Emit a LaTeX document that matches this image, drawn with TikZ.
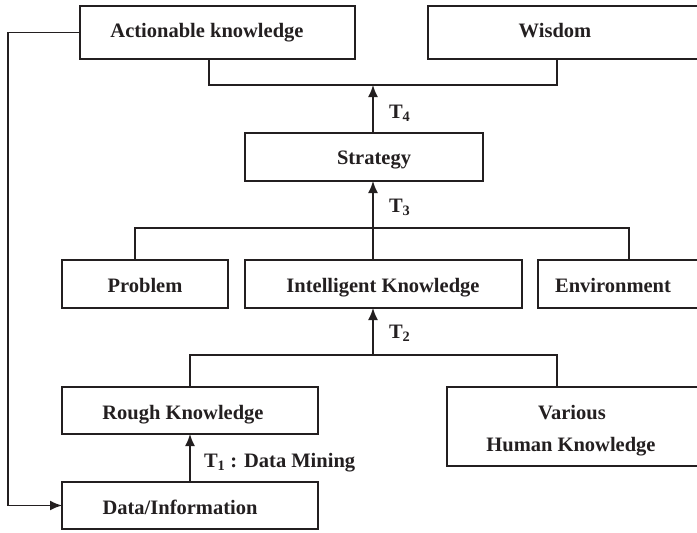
\documentclass[tikz,border=0pt]{standalone}
\usepackage{fontspec}
\setmainfont{Liberation Serif}
\usetikzlibrary{arrows.meta}
\definecolor{ink}{RGB}{35,31,32}
\begin{document}
\begin{tikzpicture}[x=1pt,y=-1pt,
  box/.style={draw=ink, line width=1.6pt, inner sep=0pt, outer sep=0pt},
  lbl/.style={font=\fontsize{20.5}{32}\selectfont\bfseries, text=ink, inner sep=0pt, outer sep=0pt},
  conn/.style={draw=ink, line width=1.6pt},
  arr/.style={conn, -{Latex[length=12pt,width=10pt]}}]
\useasboundingbox (0,0) rectangle (697,533);
\clip (0,0) rectangle (697,533);
% boxes
\node[box, minimum width=275pt, minimum height=53pt] (ak) at (217.5,32.5) {};
\node[box, minimum width=284pt, minimum height=53pt] (w) at (570,32.5) {};
\node[box, minimum width=238pt, minimum height=48pt] (s) at (364,157) {};
\node[box, minimum width=166pt, minimum height=48pt] (p) at (145,284) {};
\node[box, minimum width=277pt, minimum height=48pt] (ik) at (383.5,284) {};
\node[box, minimum width=174pt, minimum height=48pt] (e) at (625,284) {};
\node[box, minimum width=256pt, minimum height=47pt] (rk) at (190,410.5) {};
\node[box, minimum width=265pt, minimum height=79pt] (v) at (579.5,426.5) {};
\node[box, minimum width=256pt, minimum height=47pt] (d) at (190,505.5) {};
% texts
\node[lbl, anchor=base] (akt) at (207,37.5) {Actionable knowledge};
\node[lbl, anchor=base] (wt) at (555,37.5) {Wisdom};
\node[lbl, anchor=base] (st) at (374,164) {Strategy};
\node[lbl, anchor=base] (pt) at (145,292) {Problem};
\node[lbl, anchor=base] (ikt) at (383,292) {Intelligent Knowledge};
\node[lbl, anchor=base] (et) at (613,292) {Environment};
\node[lbl, anchor=base] (rkt) at (183,419) {Rough Knowledge};
\node[lbl, anchor=base] (vt1) at (572,419) {Various};
\node[lbl, anchor=base] (vt2) at (571,451) {Human Knowledge};
\node[lbl, anchor=base] (dt) at (180,514) {Data/Information};
\node[lbl, anchor=base west] (t4) at (389,118) {T\textsubscript{4}};
\node[lbl, anchor=base west] (t3) at (389,212) {T\textsubscript{3}};
\node[lbl, anchor=base west] (t2) at (389,338) {T\textsubscript{2}};
\node[lbl, anchor=base west] (t1) at (204,467) {T\textsubscript{1} : Data Mining};
% connectors
\coordinate (b4l) at (209,85);
\coordinate (b4r) at (557,85);
\coordinate (b4m) at (373,85);
\draw[conn] (ak.south -| b4l) -- (b4l) -- (b4r) -- (w.south -| b4r);
\draw[arr] (s.north -| b4m) -- (b4m);
\coordinate (b3l) at (135,228);
\coordinate (b3r) at (629,228);
\coordinate (b3m) at (373,228);
\draw[conn] (p.north -| b3l) -- (b3l) -- (b3r) -- (e.north -| b3r);
\draw[arr] (ik.north -| b3m) -- (s.south -| b3m);
\coordinate (b2l) at (190,355);
\coordinate (b2r) at (557,355);
\coordinate (b2m) at (373,355);
\draw[conn] (rk.north -| b2l) -- (b2l) -- (b2r) -- (v.north -| b2r);
\draw[arr] (b2m) -- (ik.south -| b2m);
\draw[arr] (d.north) -- (rk.south);
\coordinate (fb1) at (8,32.5);
\coordinate (fb2) at (8,505.5);
\draw[arr] (ak.west) -- (fb1) -- (fb2) -- (d.west);
\end{tikzpicture}
\end{document}
